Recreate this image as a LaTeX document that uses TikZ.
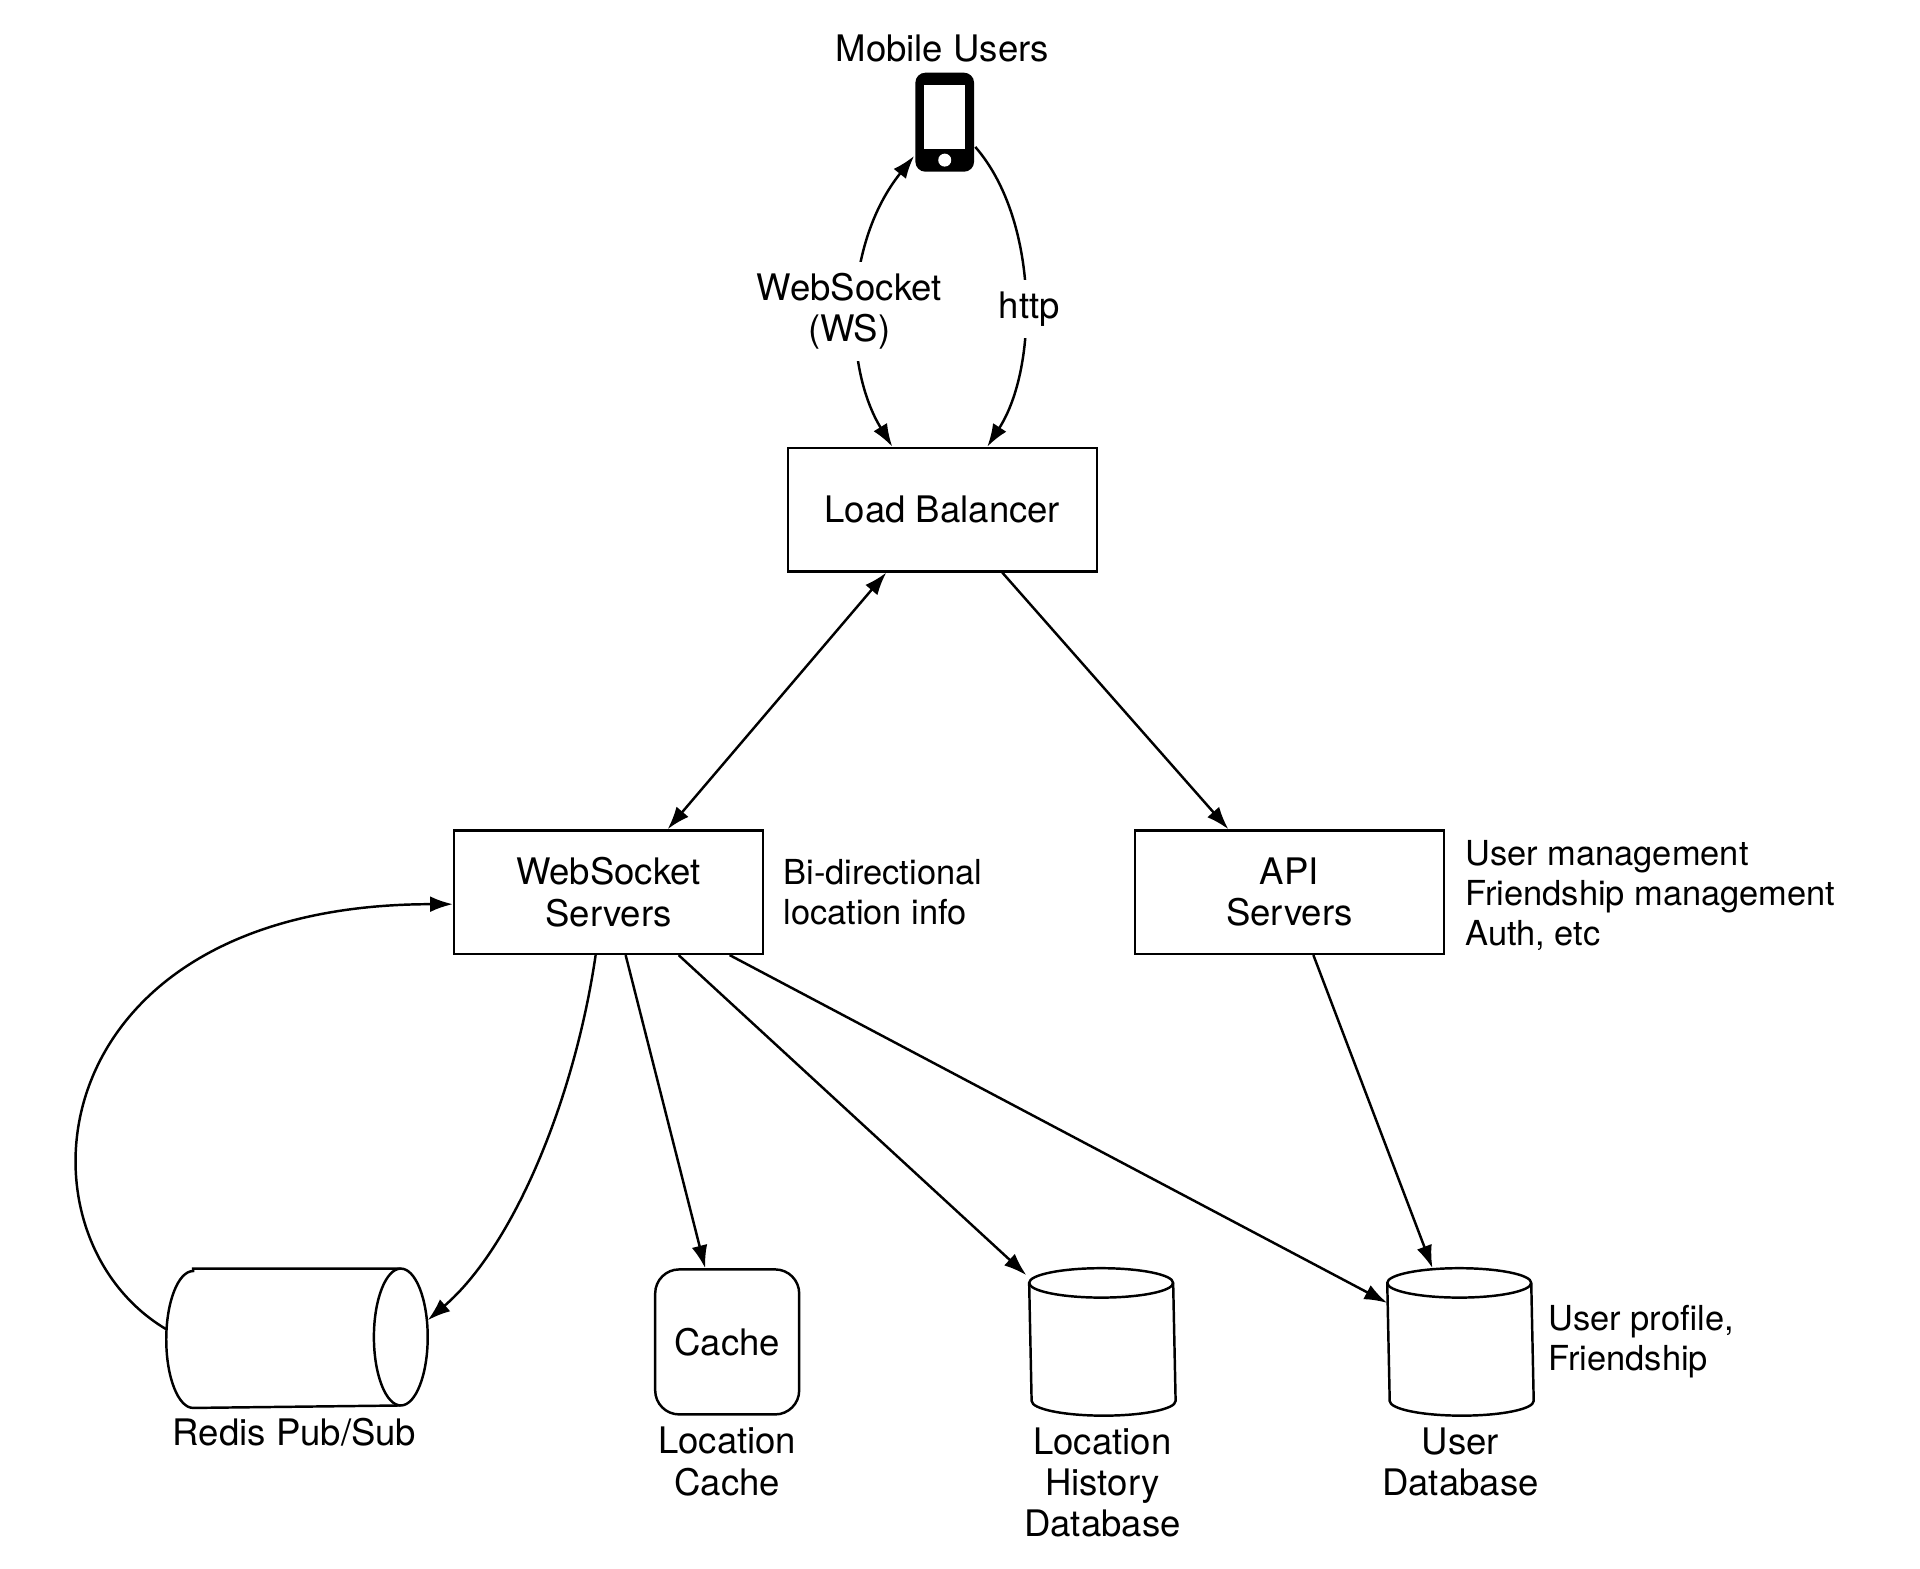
\documentclass[tikz,border=0pt]{standalone}
\usepackage{fontspec}
\setmainfont{TeX Gyre Heros}
\usetikzlibrary{arrows.meta}

\begin{document}
\begin{tikzpicture}[x=0.01222cm, y=-0.01222cm, line width=0.7pt,
		>={Latex[length=6.5pt,width=4.5pt]},
		font=\fontsize{10.4}{11.8}\selectfont,
		box/.style={draw, minimum width=3.09cm, minimum height=1.234cm, align=center},
		store/.style={minimum width=1.44cm, minimum height=1.45cm, inner sep=0pt},
		note/.style={anchor=west, align=left, inner xsep=0pt, font=\fontsize{9.8}{11.4}\selectfont},
		caption/.style={align=center}]
		\useasboundingbox (0, 0) rectangle (1571, 1283);
		% users
		\node (users) at (771, 40) {Mobile Users};
		\node[fill, rounded corners=0.1cm, minimum width=0.587cm, minimum height=0.99cm,
			inner sep=0pt] (phone) at (773, 100) {};
		\fill[white] ([xshift=-0.204cm, yshift=-0.263cm]phone.center) rectangle
			([xshift=0.204cm, yshift=0.373cm]phone.center);
		\fill[white] ([yshift=-0.379cm]phone.center) circle (0.065cm);
		% servers
		\node[box] (lb) at (771, 417) {Load Balancer};
		\node[box] (ws) at (498, 730) {WebSocket\\Servers};
		\node[box] (api) at (1055, 730) {API\\Servers};
		\node[note] (wsnote) at (640, 730) {Bi-directional\\location info};
		\node[note] (apinote) at (1198, 733) {User management\\Friendship management\\Auth, etc};
		% storage
		\node[minimum width=2.59cm, minimum height=1.369cm, inner sep=0pt] (redis) at (243, 1095) {};
		\draw ([xshift=0.269cm]redis.north west) -- ([xshift=-0.269cm]redis.north east)
			arc[start angle=90, end angle=-90, x radius=0.269cm, y radius=0.6845cm]
			-- ([xshift=0.269cm]redis.south west)
			arc[start angle=270, end angle=90, x radius=0.269cm, y radius=0.6845cm] -- cycle;
		\draw ([xshift=-0.269cm]redis.north east)
			arc[start angle=90, end angle=270, x radius=0.269cm, y radius=0.6845cm];
		\node[draw, rounded corners=0.24cm, minimum width=1.44cm, minimum height=1.45cm]
			(cache) at (595, 1098) {Cache};
		\node[store] (hist) at (902, 1098) {};
		\node[store] (userdb) at (1195, 1098) {};
		\foreach \db in {hist, userdb}
		{
			\draw ([yshift=-0.147cm]\db.north west)
				arc[start angle=180, end angle=0, x radius=0.72cm, y radius=0.147cm]
				-- ([yshift=0.147cm]\db.south east)
				arc[start angle=0, end angle=-180, x radius=0.72cm, y radius=0.147cm] -- cycle;
			\draw ([yshift=-0.147cm]\db.north west)
				arc[start angle=180, end angle=360, x radius=0.72cm, y radius=0.147cm];
		}
		\node (redislabel) at (241, 1172) {Redis Pub/Sub};
		\node[caption] (cachelabel) at (595, 1196) {Location\\Cache};
		\node[caption] (histlabel) at (902, 1213) {Location\\History\\Database};
		\node[caption] (userdblabel) at (1195, 1196) {User\\Database};
		\node[note] (userdbnote) at (1266, 1098) {User profile,\\Friendship};
		% client links
		\draw[<->] ([xshift=-0.5cm]lb.north) .. controls (690, 300) and (690, 200) ..
			([yshift=0.17cm]phone.south west) node[pos=0.5, xshift=-0.09cm, yshift=-0.07cm,
			fill=white, align=center] {WebSocket\\(WS)};
		\draw[->] ([yshift=0.26cm]phone.south east) .. controls (850, 180) and (850, 300) ..
			([xshift=0.45cm]lb.north) node[pos=0.5, xshift=0.05cm, yshift=-0.15cm, fill=white] {http};
		% load balancer links
		\draw[<->] ([xshift=-0.56cm]lb.south) -- ([xshift=0.59cm]ws.north);
		\draw[->] ([xshift=0.6cm]lb.south) -- ([xshift=-0.61cm]api.north);
		% websocket server links
		\draw[->] ([xshift=-0.13cm]ws.south) .. controls (470, 900) and (420, 1020) ..
			([yshift=0.18cm]redis.east);
		\draw[->] ([yshift=0.09cm]redis.west) .. controls (5, 1010) and (30, 740) ..
			([yshift=-0.12cm]ws.west);
		\draw[->] ([xshift=0.17cm]ws.south) -- ([xshift=-0.22cm]cache.north);
		\draw[->] ([xshift=0.7cm]ws.south) -- ([xshift=-0.76cm, yshift=-0.07cm]hist.north);
		\draw[->] ([xshift=1.21cm]ws.south) -- ([yshift=0.39cm]userdb.west);
		% api server links
		\draw[->] ([xshift=0.24cm]api.south) -- ([xshift=-0.28cm]userdb.north);
	\end{tikzpicture}
\end{document}
